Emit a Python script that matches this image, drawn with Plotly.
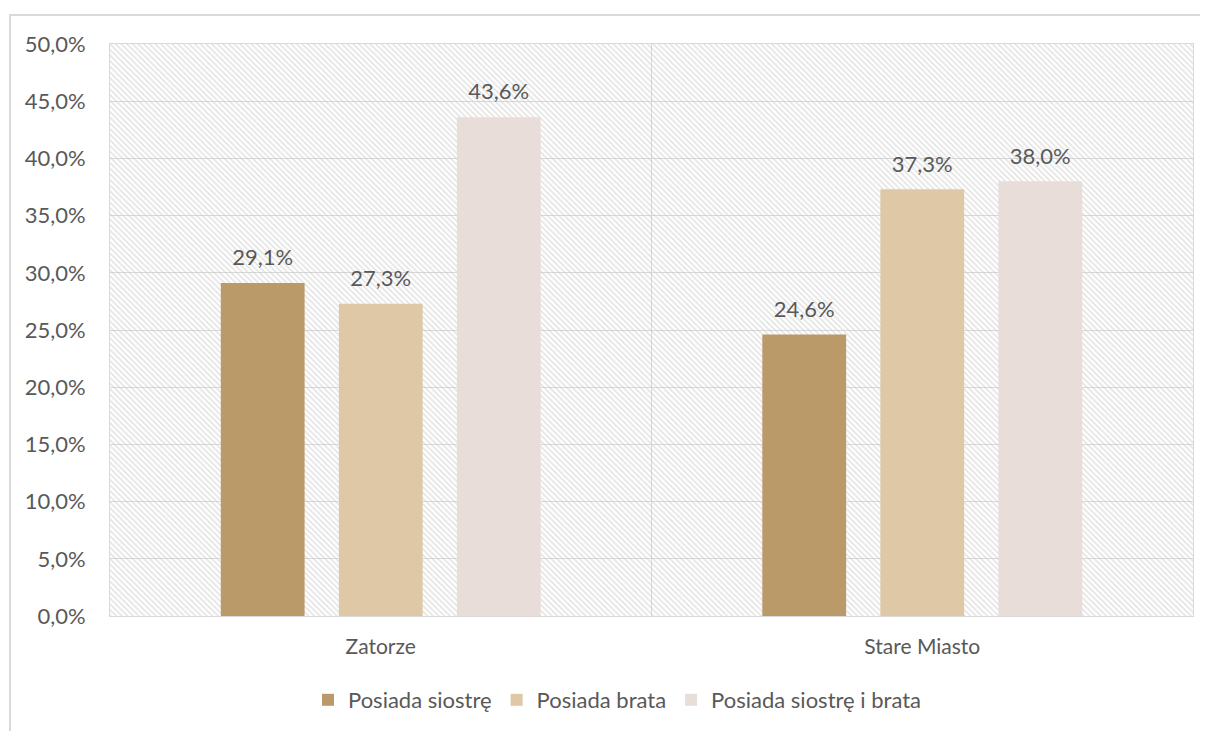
import plotly.graph_objects as go

categories = ["Zatorze", "Stare Miasto"]
series_names = ["Posiada siostrę", "Posiada brata", "Posiada siostrę i brata"]
siostra = [29.1, 24.6]
brat = [27.3, 37.3]
siostra_i_brat = [43.6, 38.0]
series_values = [siostra, brat, siostra_i_brat]
colors = ["#BB9A6A", "#DEC8A6", "#E8DDD9"]
y_tickvals = [0, 5, 10, 15, 20, 25, 30, 35, 40, 45, 50]
y_ticktext = ["0,0%", "5,0%", "10,0%", "15,0%", "20,0%", "25,0%", "30,0%",
              "35,0%", "40,0%", "45,0%", "50,0%"]

FONT = "Lato"
FS = 22
TXT = "#595959"
GRID = "#D9D9D9"

fig = go.Figure()

# hatched plot-area background (main axes)
fig.add_trace(go.Bar(
    x=[0.5], y=[50], width=[1], xaxis="x", yaxis="y",
    marker=dict(color="rgba(0,0,0,0)", line=dict(width=0),
                pattern=dict(shape="\\", fgcolor="#C8C8C8", bgcolor="rgba(0,0,0,0)",
                             size=4, solidity=0.4, fillmode="overlay")),
    showlegend=False, hoverinfo="skip",
))

for name, vals, col in zip(series_names, series_values, colors):
    fig.add_trace(go.Bar(
        x=categories, y=vals, name=name, xaxis="x2", yaxis="y",
        marker=dict(color=col, line=dict(width=0)),
        offsetgroup=name,
    ))

for name, vals in zip(series_names, series_values):
    fig.add_trace(go.Scatter(
        x=categories, y=vals, xaxis="x2", yaxis="y", mode="markers+text",
        text=[f"{v:.1f}%".replace(".", ",") for v in vals],
        textposition="top center",
        textfont=dict(family=FONT, size=FS, color=TXT),
        marker=dict(size=18, opacity=0),
        offsetgroup=name, showlegend=False, hoverinfo="skip",
    ))

fig.update_layout(
    width=1200, height=723,
    margin=dict(l=102, r=15, t=36, b=115),
    paper_bgcolor="white", plot_bgcolor="white",
    barmode="group", bargap=0.346, bargroupgap=0.29,
    scattermode="group", scattergap=0.346,
    font=dict(family=FONT, size=FS, color=TXT),
    xaxis=dict(range=[0, 1], visible=False, showgrid=False, zeroline=False, fixedrange=True),
    xaxis2=dict(overlaying="x", anchor="y", side="bottom", type="category",
                tickson="boundaries", showgrid=True, gridcolor=GRID, gridwidth=1,
                showline=True, linecolor=GRID, mirror=True, ticks="",
                ticklabelstandoff=12, tickfont=dict(family=FONT, size=21, color=TXT)),
    yaxis=dict(range=[0, 50], tickvals=y_tickvals, ticktext=y_ticktext,
               showgrid=True, gridcolor=GRID, gridwidth=1, zeroline=False,
               showline=True, linecolor=GRID, mirror=True, ticks="",
               ticklabelstandoff=19, tickfont=dict(family=FONT, size=FS, color=TXT)),
    legend=dict(orientation="h", x=609 / 1200, xanchor="center", y=1 - 692 / 723,
                yanchor="middle", yref="container", xref="container",
                font=dict(family=FONT, size=FS, color=TXT),
                itemwidth=30, traceorder="normal"),
    shapes=[dict(type="rect", xref="paper", yref="paper",
                 x0=-100 / 1083, x1=1.2, y0=-0.5, y1=1 + 29 / 572,
                 line=dict(color="#D9D9D9", width=2), fillcolor="rgba(0,0,0,0)",
                 layer="below")],
)

fig.write_html("out.html")
